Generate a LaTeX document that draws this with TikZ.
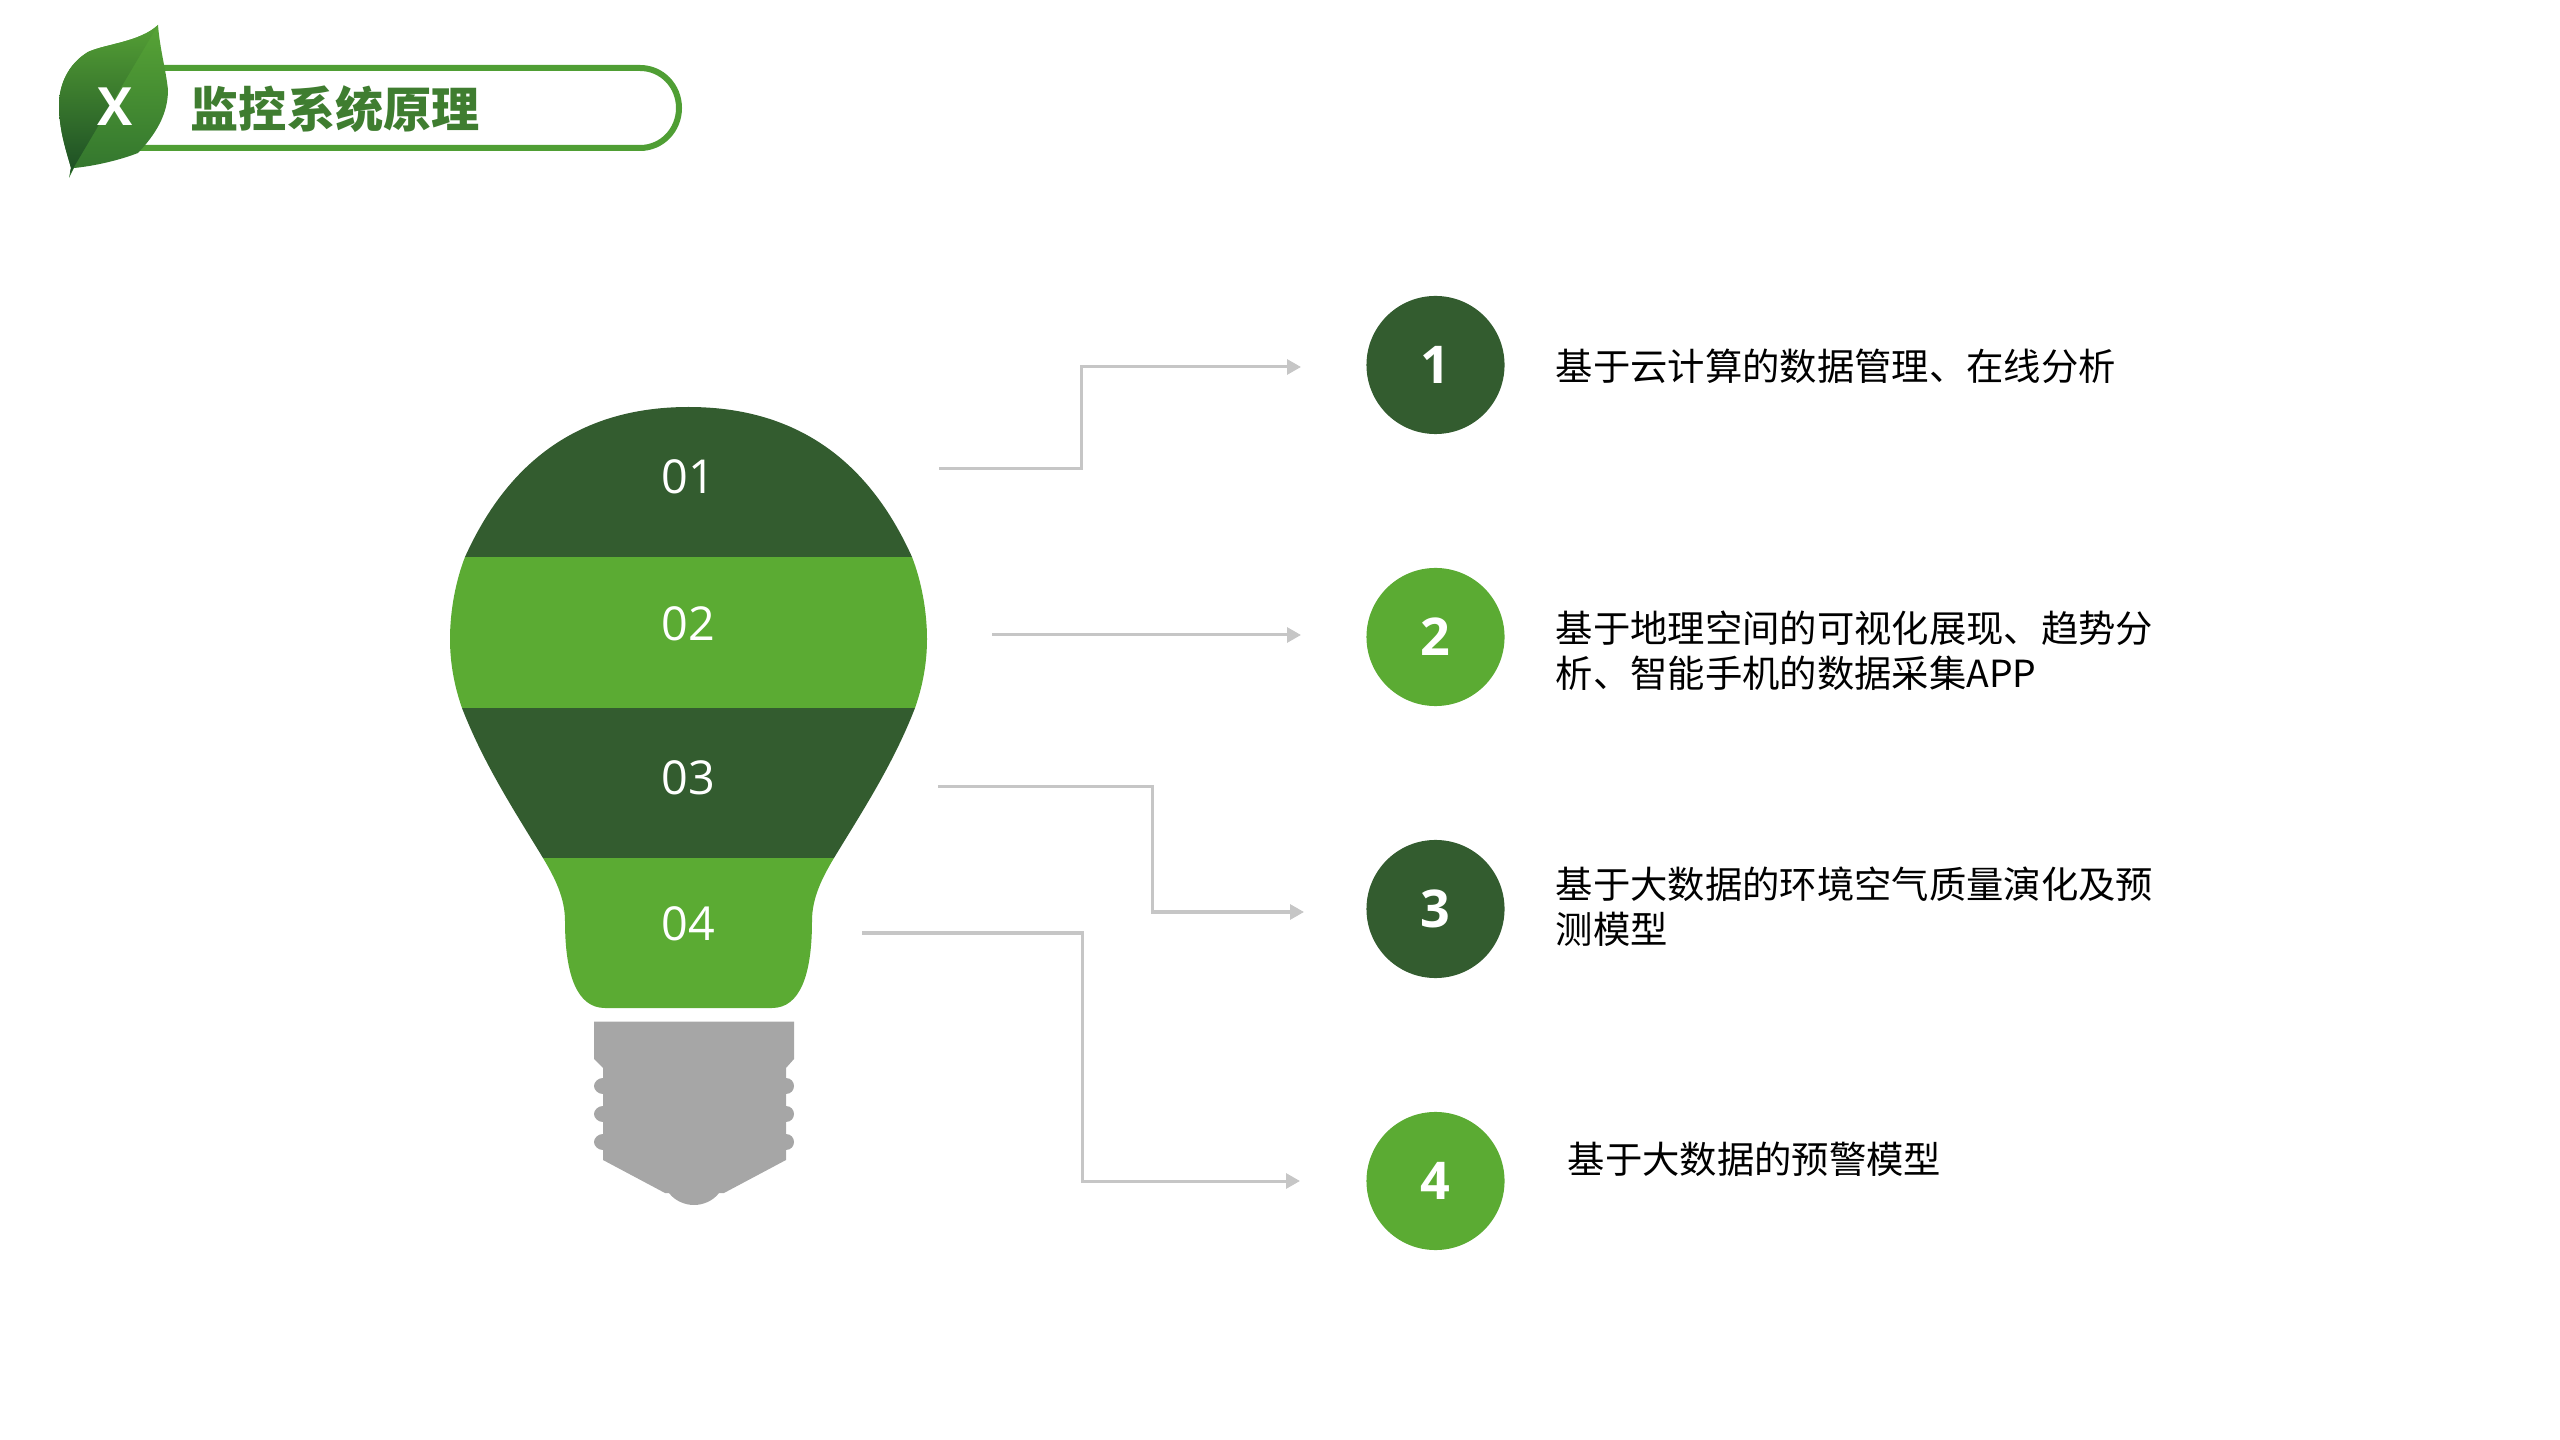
\documentclass[tikz,border=0pt]{standalone}
\usepackage{fontspec}
\setmainfont{Open Sans}
\newfontfamily\cjk{Noto Sans CJK SC}
\usetikzlibrary{arrows.meta}
\definecolor{darkgreen}{HTML}{335C2F}
\definecolor{lightgreen}{HTML}{5BAB33}
\definecolor{pillgreen}{HTML}{4F9E34}
\definecolor{titlegreen}{HTML}{3F7D30}
\definecolor{basegray}{HTML}{A6A6A6}
\definecolor{linkgray}{HTML}{C6C6C6}
\definecolor{leaftop}{HTML}{58A536}
\definecolor{leafmid}{HTML}{34792F}
\definecolor{leafdark}{HTML}{184823}

\begin{document}
\begin{tikzpicture}[x=0.01cm,y=-0.01cm]
  \tikzstyle{numdot}=[circle,minimum width=1.38cm,inner sep=0,text=white,font=\fontsize{14.8}{16}\selectfont\bfseries]
  \tikzstyle{band}=[inner sep=0,text=white,font=\fontsize{13.3}{15}\selectfont]
  \tikzstyle{desc}=[anchor=west,inner sep=0,align=left,font=\cjk\fontsize{10.62}{12.7}\selectfont]
  \tikzstyle{link}=[draw=linkgray,line width=0.03cm,-{Triangle[length=0.14cm,width=0.15cm]}]
  \useasboundingbox (0,0) rectangle (2560,1440);

  % title bar
  \draw[pillgreen,line width=0.06cm] (120,148) -- (640,148) .. controls (662,148) and (679,130) .. (679,108)
    .. controls (679,86) and (662,68) .. (640,68) -- (120,68);
  \begin{scope}
    \clip (158,25) .. controls (140,42) and (105,44) .. (88,52) .. controls (68,64) and (59,85) .. (59,105)
      .. controls (59,130) and (66,150) .. (71,168) -- (69,178) -- (74,168)
      .. controls (95,166) and (120,160) .. (138,153) .. controls (155,135) and (168,115) .. (168,90)
      .. controls (166,70) and (160,50) .. (158,25) -- cycle;
    \shade[shading angle=-25,top color=leaftop,middle color=leafmid,bottom color=leafmid!85!leafdark] (50,20) rectangle (175,185);
    \shade[shading angle=-25,top color=leaftop,middle color=leafmid!60!leafdark,bottom color=leafdark]
      (50,15) -- (158,15) -- (158,25) -- (71,172) -- (50,185) -- cycle;
  \end{scope}
  \node[white,inner sep=0,font=\fontsize{15}{17}\selectfont\bfseries] (X) at (115,107) {X};
  \node[anchor=west,inner sep=0,titlegreen,font=\cjk\fontsize{13.7}{16}\selectfont\bfseries] (title) at (190,109) {监控系统原理};

  % bulb
  \begin{scope}
    \clip (688.5,407) .. controls (810,407) and (875,475) .. (912,557) .. controls (921,580) and (927,610) .. (927,639)
      .. controls (927,665) and (922,688) .. (915,708) .. controls (893,765) and (860,815) .. (834,858)
      .. controls (822,878) and (812,898) .. (812,921) .. controls (812,975) and (800,1008) .. (772,1008)
      -- (605,1008) .. controls (577,1008) and (565,975) .. (565,921) .. controls (565,898) and (555,878) .. (543,858)
      .. controls (517,815) and (484,765) .. (462,708) .. controls (455,688) and (450,665) .. (450,639)
      .. controls (450,610) and (456,580) .. (465,557) .. controls (502,475) and (567,407) .. (688.5,407) -- cycle;
    \fill[darkgreen] (440,400) rectangle (940,557);
    \fill[lightgreen] (440,557) rectangle (940,708);
    \fill[darkgreen] (440,708) rectangle (940,858.5);
    \fill[lightgreen] (440,858.5) rectangle (940,1010);
  \end{scope}
  \node[band] (B_1) at (688.5,477) {01};
  \node[band] (B_2) at (688.5,624) {02};
  \node[band] (B_3) at (688.5,777.5) {03};
  \node[band] (B_4) at (688.5,924) {04};

  % base
  \fill[basegray] (594,1021.5) -- (794,1021.5) -- (794,1059) -- (786,1068) -- (786,1078)
    .. controls (791,1078) and (794,1082) .. (794,1086) .. controls (794,1090) and (791,1094) .. (786,1094) -- (786,1106)
    .. controls (791,1106) and (794,1110) .. (794,1114) .. controls (794,1118) and (791,1122) .. (786,1122) -- (786,1134)
    .. controls (791,1134) and (794,1138) .. (794,1142) .. controls (794,1146) and (791,1150) .. (786,1150) -- (786,1160)
    -- (724,1193) -- (719,1193) .. controls (713,1201) and (703,1205) .. (694,1205) .. controls (685,1205) and (675,1201) .. (669,1193)
    -- (665,1193) -- (603,1160) -- (603,1150) .. controls (598,1150) and (594,1146) .. (594,1142) .. controls (594,1138) and (598,1134) .. (603,1134)
    -- (603,1122) .. controls (598,1122) and (594,1118) .. (594,1114) .. controls (594,1110) and (598,1106) .. (603,1106)
    -- (603,1094) .. controls (598,1094) and (594,1090) .. (594,1086) .. controls (594,1082) and (598,1078) .. (603,1078)
    -- (603,1068) -- (594,1059) -- cycle;

  % right column
  \node[numdot,fill=darkgreen] (D_1) at (1435.5,365) {1};
  \node[numdot,fill=lightgreen] (D_2) at (1435.5,637) {2};
  \node[numdot,fill=darkgreen] (D_3) at (1435.5,909) {3};
  \node[numdot,fill=lightgreen] (D_4) at (1435.5,1181) {4};

  \node[desc] (T_1) at (1555,366) {基于云计算的数据管理、在线分析};
  \node[desc] (T_2) at (1555,651) {基于地理空间的可视化展现、趋势分\\析、智能手机的数据采集APP};
  \node[desc] (T_3) at (1555,907) {基于大数据的环境空气质量演化及预\\测模型};
  \node[desc] (T_4) at (1567,1159) {基于大数据的预警模型};

  \coordinate (S_1) at (939,469);
  \coordinate (K_1) at (1081,367);
  \coordinate (E_1) at (1301,367);
  \coordinate (S_2) at (992,635);
  \coordinate (E_2) at (1301,635);
  \coordinate (S_3) at (938,787);
  \coordinate (K_3) at (1152,912);
  \coordinate (E_3) at (1304,912);
  \coordinate (S_4) at (862,933);
  \coordinate (K_4) at (1082,1181);
  \coordinate (E_4) at (1300,1181);

  \draw[link] (S_1) -| (K_1) -- (E_1);
  \draw[link] (S_2) -- (E_2);
  \draw[link] (S_3) -| (K_3) -- (E_3);
  \draw[link] (S_4) -| (K_4) -- (E_4);
\end{tikzpicture}
\end{document}
